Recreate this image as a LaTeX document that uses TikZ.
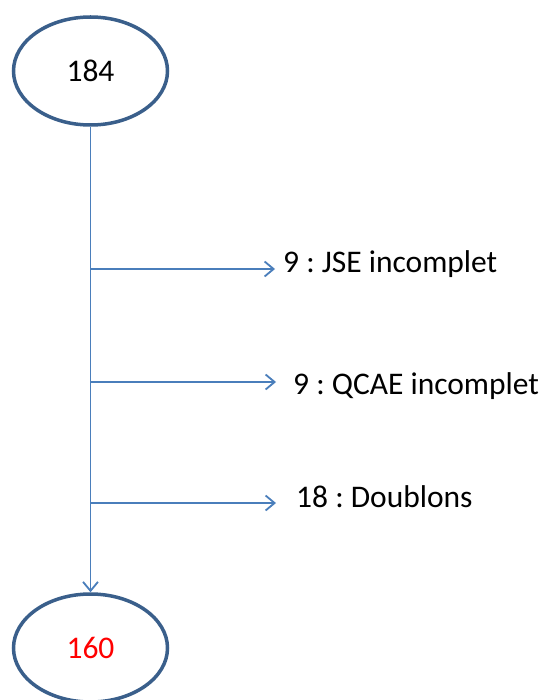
\documentclass[tikz,border=0pt]{standalone}
\usepackage{fontspec}
\setmainfont{Carlito}
\usetikzlibrary{arrows.meta}
\usetikzlibrary{shapes.geometric}
\definecolor{rim}{HTML}{3A5F8B}
\definecolor{wire}{HTML}{4A7EBB}
\frenchspacing
\tikzset{
  count/.style={draw=rim, line width=3.5pt, ellipse, minimum width=154pt, minimum height=108pt, inner sep=0pt, font=\fontsize{31.5}{36}\selectfont},
  why/.style={anchor=west, inner sep=0pt, font=\fontsize{31.5}{36}\selectfont},
  flow/.style={draw=wire, line width=1.8pt, -{Straight Barb[length=9pt,width=15pt,line width=1.8pt]}}
}

\begin{document}
\begin{tikzpicture}[x=1pt,y=-1pt]
          \useasboundingbox (0,0) rectangle (542,700);
          \node[count] (start) at (90.5,71) {184};
          \node[count, text=red] (final) at (90.5,648) {160};

          \coordinate (bjse) at (91,269);
          \coordinate (bqcae) at (91,382);
          \coordinate (bdbl) at (91,503);
          \coordinate (ejse) at (275,269);
          \coordinate (eqcae) at (276,382);
          \coordinate (edbl) at (276,503);

          \node[why] (jse) at (283,264) {9 : JSE incomplet};
          \node[why] (qcae) at (293,386) {9 : QCAE incomplet};
          \node[why] (dbl) at (296,497) {18 : Doublons};

          \draw[flow] (start) -- (final);
          \draw[flow] (bjse) -- (ejse);
          \draw[flow] (bqcae) -- (eqcae);
          \draw[flow] (bdbl) -- (edbl);
        \end{tikzpicture}
\end{document}
